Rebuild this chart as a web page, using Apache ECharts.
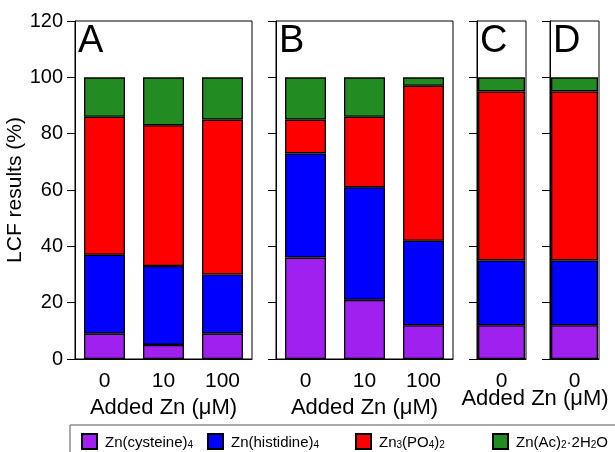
<!DOCTYPE html>
<html>
<head>
<meta charset="utf-8">
<title>LCF results</title>
<script src="https://cdn.jsdelivr.net/npm/echarts@6/dist/echarts.min.js"></script>
<style>
html, body { margin: 0; padding: 0; background: #fff; }
#chart { width: 615px; height: 452px; }
</style>
</head>
<body>
<div id="chart"></div>
<script>
// categories (added Zn, uM) for the four panels
var catA = ['0', '10', '100'];
var catB = ['0', '10', '100'];
var catC = ['0'];
var catD = ['0'];
var panelCats = [catA, catB, catC, catD];
var panelNames = ['A', 'B', 'C', 'D'];

// LCF fractions (%) per species, per panel
var cysteine  = [[9, 5, 9],   [36, 21, 12], [12], [12]];
var histidine = [[28, 28, 21], [37, 40, 30], [23], [23]];
var phosphate = [[49, 50, 55], [12, 25, 55], [60], [60]];
var acetate   = [[14, 17, 15], [15, 14, 3],  [5],  [5]];

var yTicks = [0, 20, 40, 60, 80, 100, 120];
var seriesNames = ['Zn(cysteine)4', 'Zn(histidine)4', 'Zn3(PO4)2', 'Zn(Ac)2·2H2O'];
// rich text so the subscripts come out right
var legendRich = [
	'{n|Zn(cysteine)}{s|4}',
	'{n|Zn(histidine)}{s|4}',
	'{n|Zn}{s|3}{n|(PO}{s|4}{n|)}{s|2}',
	'{n|Zn(Ac)}{s|2}{n|·2H}{s|2}{n|O}'
];
var seriesData = [cysteine, histidine, phosphate, acetate];
var colors = ['#A020F0', '#0000FF', '#FF0000', '#228B22'];

var FONT = 'Liberation Sans, Arial, sans-serif';

// layout of the four panels
var gridBox = [
	{left: 75, width: 177, barWidth: 41},
	{left: 276, width: 177, barWidth: 41},
	{left: 477, width: 49, barWidth: 47},
	{left: 550, width: 49, barWidth: 47}
];
var legendLeft = [76, 202, 350, 487];

var chart = echarts.init(document.getElementById('chart'));

var grids = [], xAxes = [], yAxes = [], series = [], graphics = [];
for (var p = 0; p < 4; p++) {
	grids.push({
		left: gridBox[p].left,
		top: 21,
		width: gridBox[p].width,
		height: 338,
		show: true,
		borderColor: '#000',
		borderWidth: 1,
		backgroundColor: 'transparent'
	});
	xAxes.push({
		type: 'category',
		gridIndex: p,
		data: panelCats[p],
		axisLine: {lineStyle: {color: '#000', width: 1}},
		axisTick: {show: false},
		axisLabel: {color: '#000', fontSize: 21, fontFamily: FONT, margin: 12},
		name: p < 2 ? 'Added Zn (μM)' : '',
		nameLocation: 'middle',
		nameGap: 29,
		nameTextStyle: {color: '#000', fontSize: 22, fontFamily: FONT}
	});
	yAxes.push({
		type: 'value',
		gridIndex: p,
		min: 0,
		max: 120,
		interval: 20,
		axisLine: {show: true, lineStyle: {color: '#000', width: 1}},
		axisTick: {show: true, inside: false, length: 8, lineStyle: {color: '#000'}},
		axisLabel: {
			show: p === 0,
			color: '#000',
			fontSize: 20,
			fontFamily: FONT,
			margin: 12,
			formatter: function (v) { return yTicks.indexOf(v) >= 0 ? String(v) : ''; }
		},
		splitLine: {show: false},
		name: p === 0 ? 'LCF results (%)' : '',
		nameLocation: 'middle',
		nameGap: 33,
		nameTextStyle: {color: '#000', fontSize: 21, fontFamily: FONT}
	});
	for (var s = 0; s < 4; s++) {
		series.push({
			name: seriesNames[s],
			type: 'bar',
			stack: 'p' + p,
			xAxisIndex: p,
			yAxisIndex: p,
			barWidth: gridBox[p].barWidth,
			data: seriesData[s][p],
			itemStyle: {color: colors[s], borderColor: '#000', borderWidth: 1.3},
			emphasis: {disabled: true},
			animation: false
		});
	}
	// panel letter
	graphics.push({
		type: 'text',
		left: gridBox[p].left + 3,
		top: 23,
		style: {text: panelNames[p], fill: '#000', font: '38px ' + FONT}
	});
}

// shared x title for C and D
graphics.push({
	type: 'text',
	x: 535,
	y: 388,
	style: {text: 'Added Zn (μM)', fill: '#000', font: '22px ' + FONT, textAlign: 'center', textVerticalAlign: 'top'}
});
// legend frame
graphics.push({
	type: 'rect',
	shape: {x: 70, y: 425, width: 560, height: 40},
	style: {fill: 'none', stroke: '#555', lineWidth: 1}
});

var legends = [];
for (var i = 0; i < 4; i++) {
	legends.push({
		data: [seriesNames[i]],
		left: legendLeft[i],
		top: 428,
		icon: 'rect',
		itemWidth: 15,
		itemHeight: 15,
		selectedMode: false,
		formatter: (function (k) { return function () { return legendRich[k]; }; })(i),
		textStyle: {
			color: '#000',
			fontSize: 15,
			fontFamily: FONT,
			padding: [0, 0, 0, 3],
			rich: {
				n: {fontSize: 15, fontFamily: FONT, color: '#000', lineHeight: 18, verticalAlign: 'bottom'},
				s: {fontSize: 10, fontFamily: FONT, color: '#000', lineHeight: 14, verticalAlign: 'bottom'}
			}
		}
	});
}

chart.setOption({
	backgroundColor: '#fff',
	animation: false,
	grid: grids,
	xAxis: xAxes,
	yAxis: yAxes,
	legend: legends,
	graphic: graphics,
	series: series
});
</script>
</body>
</html>
